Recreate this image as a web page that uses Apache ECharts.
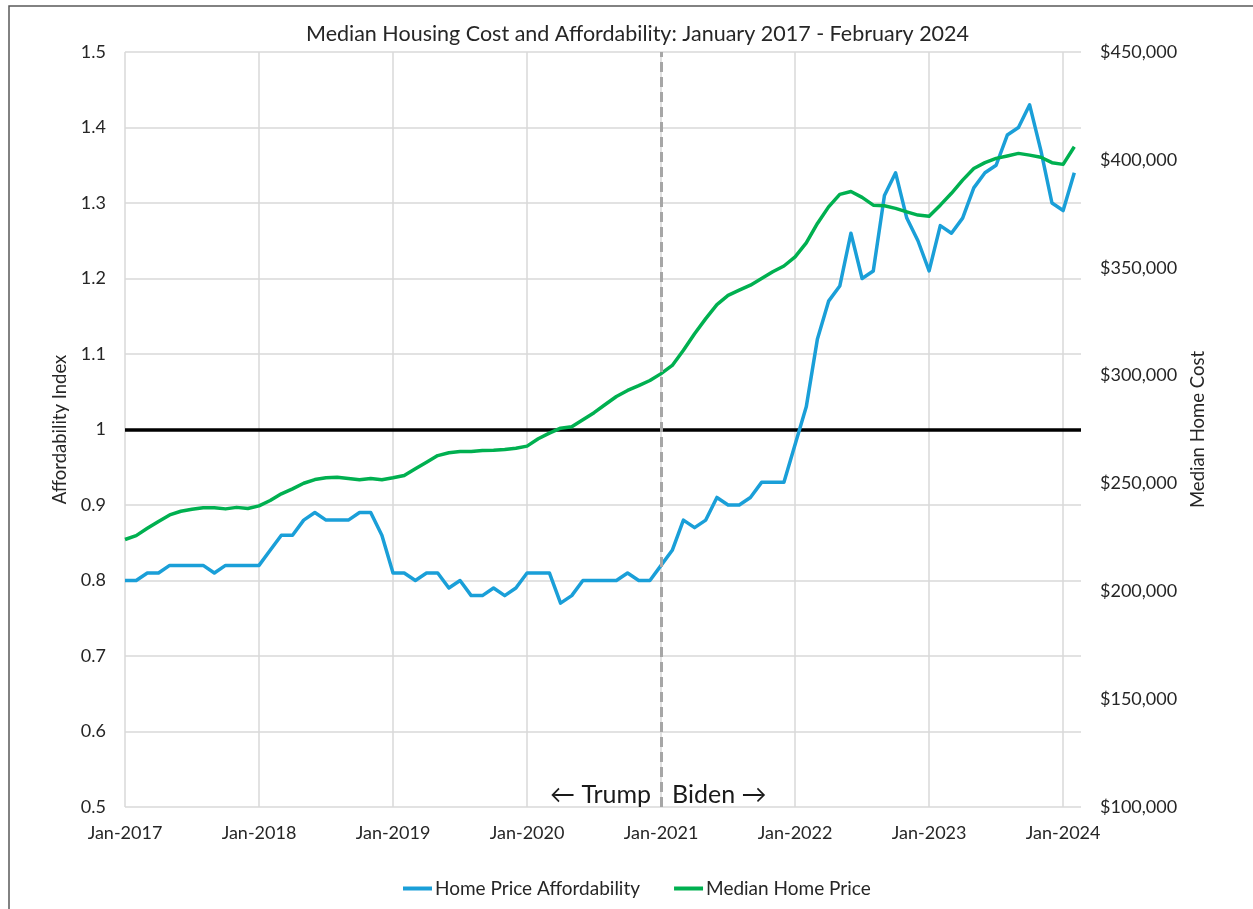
<!DOCTYPE html>
<html>
<head>
<meta charset="utf-8">
<title>Median Housing Cost and Affordability</title>
<script src="https://cdn.jsdelivr.net/npm/echarts@6/dist/echarts.min.js"></script>
<style>
  html, body { margin: 0; padding: 0; background: #ffffff; }
  #chart { width: 1253px; height: 909px; }
</style>
</head>
<body>
<div id="chart"></div>
<script>
// Monthly series, January 2017 through February 2024 (86 months)
const yearLabels = ['Jan-2017', 'Jan-2018', 'Jan-2019', 'Jan-2020', 'Jan-2021', 'Jan-2022', 'Jan-2023', 'Jan-2024'];

const affordability = [
  0.80, 0.80, 0.81, 0.81, 0.82, 0.82, 0.82, 0.82, 0.81, 0.82, 0.82, 0.82,
  0.82, 0.84, 0.86, 0.86, 0.88, 0.89, 0.88, 0.88, 0.88, 0.89, 0.89, 0.86,
  0.81, 0.81, 0.80, 0.81, 0.81, 0.79, 0.80, 0.78, 0.78, 0.79, 0.78, 0.79,
  0.81, 0.81, 0.81, 0.77, 0.78, 0.80, 0.80, 0.80, 0.80, 0.81, 0.80, 0.80,
  0.82, 0.84, 0.88, 0.87, 0.88, 0.91, 0.90, 0.90, 0.91, 0.93, 0.93, 0.93,
  0.98, 1.03, 1.12, 1.17, 1.19, 1.26, 1.20, 1.21, 1.31, 1.34, 1.28, 1.25,
  1.21, 1.27, 1.26, 1.28, 1.32, 1.34, 1.35, 1.39, 1.40, 1.43, 1.37, 1.30,
  1.29, 1.34
];

const medianPrice = [
  224000, 225800, 229200, 232400, 235400, 237100, 238000, 238700, 238700, 238200, 238900, 238400,
  239600, 242100, 245200, 247500, 250100, 251800, 252600, 252900, 252300, 251700, 252300, 251700,
  252600, 253700, 256800, 259800, 262900, 264200, 264800, 264800, 265300, 265400, 265700, 266300,
  267300, 270700, 273300, 275600, 276300, 279500, 282800, 286600, 290300, 293100, 295300, 297700,
  300900, 304700, 311700, 319400, 326400, 332900, 337200, 339600, 341900, 345000, 348100, 350800,
  355000, 361500, 370500, 378200, 384000, 385300, 382600, 379000, 378700, 377500, 375900, 374400,
  373900, 379000, 384500, 390600, 396000, 398700, 400700, 401800, 403000, 402200, 401200, 398700,
  397900, 406100
];

// Index of January 2021, where the administration changes
const transitionMonth = 48;

const FONT = 'Lato, "Open Sans", sans-serif';
const TEXT = '#262626';

const toPairs = arr => arr.map((v, i) => [i, v]);

const chart = echarts.init(document.getElementById('chart'), null, { renderer: 'canvas' });

chart.setOption({
  animation: false,
  backgroundColor: '#ffffff',
  textStyle: { fontFamily: FONT, color: TEXT },
  title: {
    text: 'Median Housing Cost and Affordability: January 2017 - February 2024',
    left: 301,
    top: 18,
    textStyle: { fontFamily: FONT, fontSize: 21.5, fontWeight: 'normal', color: TEXT }
  },
  grid: { left: 125, right: 172, top: 52, bottom: 102 },
  legend: {
    left: 398,
    top: 874,
    icon: 'rect',
    itemWidth: 29,
    itemHeight: 4,
    itemGap: 34,
    data: ['Home Price Affordability', 'Median Home Price'],
    textStyle: { fontFamily: FONT, fontSize: 19, color: TEXT, padding: [0, 0, 0, -2] }
  },
  xAxis: {
    type: 'value',
    min: 0,
    max: 85.6,
    interval: 12,
    axisLine: { show: false },
    axisTick: { show: false },
    axisLabel: {
      margin: 17,
      fontFamily: FONT,
      fontSize: 18,
      color: TEXT,
      showMaxLabel: false,
      formatter: v => (v % 12 === 0 ? yearLabels[v / 12] : '')
    },
    splitLine: {
      show: true,
      showMinLine: true,
      showMaxLine: false,
      lineStyle: { color: '#d9d9d9', width: 1.5 }
    }
  },
  yAxis: [
    {
      type: 'value',
      min: 0.5,
      max: 1.5,
      interval: 0.1,
      name: 'Affordability Index',
      nameLocation: 'middle',
      nameRotate: 90,
      nameGap: 52,
      nameTextStyle: { fontFamily: FONT, fontSize: 18.5, color: TEXT },
      axisLine: { show: false },
      axisTick: { show: false },
      axisLabel: { margin: 19, fontFamily: FONT, fontSize: 18, color: TEXT },
      splitLine: { show: true, lineStyle: { color: '#d9d9d9', width: 1.5 } }
    },
    {
      type: 'value',
      min: 100000,
      max: 450000,
      interval: 50000,
      position: 'right',
      name: 'Median Home Cost',
      nameLocation: 'middle',
      nameRotate: 90,
      nameGap: 106,
      nameTextStyle: { fontFamily: FONT, fontSize: 18.5, color: TEXT },
      axisLine: { show: false },
      axisTick: { show: false },
      axisLabel: {
        margin: 19,
        fontFamily: FONT,
        fontSize: 18,
        color: TEXT,
        formatter: v => '$' + v.toLocaleString('en-US')
      },
      splitLine: { show: false }
    }
  ],
  series: [
    {
      name: 'Home Price Affordability',
      type: 'line',
      yAxisIndex: 0,
      data: toPairs(affordability),
      showSymbol: false,
      symbol: 'none',
      z: 3,
      lineStyle: { color: '#1a9fd8', width: 3.5, join: 'round' },
      itemStyle: { color: '#1a9fd8' },
      markLine: {
        silent: true,
        z: 1,
        symbol: ['none', 'none'],
        label: { show: false },
        lineStyle: { color: '#000000', width: 3.5, type: 'solid' },
        data: [{ yAxis: 1 }]
      }
    },
    {
      name: 'Median Home Price',
      type: 'line',
      yAxisIndex: 1,
      data: toPairs(medianPrice),
      showSymbol: false,
      symbol: 'none',
      z: 3,
      lineStyle: { color: '#00b050', width: 3.5, join: 'round' },
      itemStyle: { color: '#00b050' },
      markLine: {
        silent: true,
        z: 6,
        symbol: ['none', 'none'],
        label: { show: false },
        lineStyle: { color: '#a6a6a6', width: 3, type: [10, 5] },
        data: [{ xAxis: transitionMonth }]
      }
    }
  ]
});

// Administration labels on either side of the transition line
const tx = chart.convertToPixel({ xAxisIndex: 0 }, transitionMonth);
chart.setOption({
  graphic: [
    {
      type: 'rect',
      silent: true,
      z: 0,
      shape: { x: 9, y: 6, width: 1400, height: 1000 },
      style: { fill: 'none', stroke: '#595959', lineWidth: 1.5 }
    },
    {
      type: 'text',
      x: tx - 10,
      y: 795,
      style: {
        text: '\u2190 Trump',
        font: '25px ' + FONT,
        fill: '#1a1a1a',
        align: 'right',
        verticalAlign: 'middle'
      }
    },
    {
      type: 'text',
      x: tx + 11,
      y: 795,
      style: {
        text: 'Biden \u2192',
        font: '25px ' + FONT,
        fill: '#1a1a1a',
        align: 'left',
        verticalAlign: 'middle'
      }
    }
  ]
});
</script>
</body>
</html>
